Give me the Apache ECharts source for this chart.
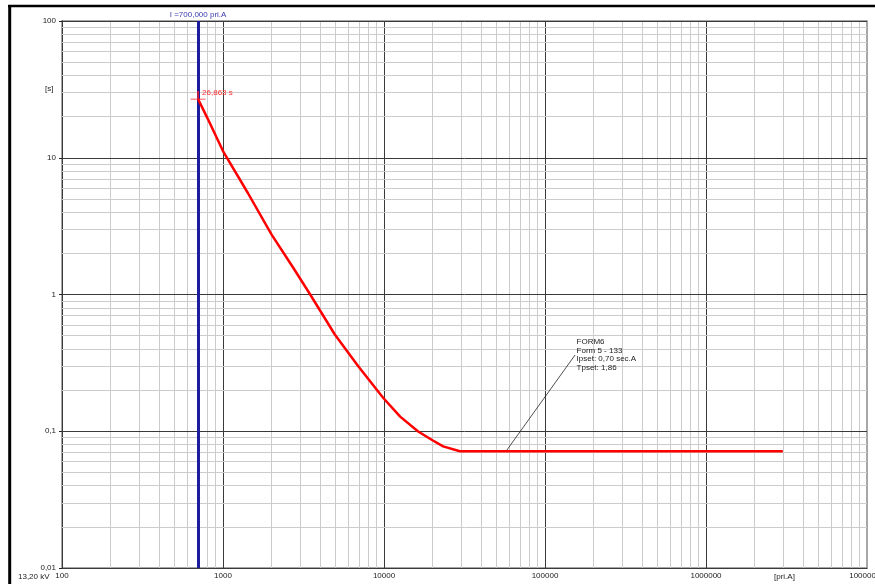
<!DOCTYPE html>
<html>
<head>
<meta charset="utf-8">
<script src="https://cdn.jsdelivr.net/npm/echarts@6/dist/echarts.min.js"></script>
<style>
  html, body { margin: 0; padding: 0; background: #fff; }
  #main { width: 875px; height: 584px; }
</style>
</head>
<body>
<div id="main"></div>
<script>
// relay curve: current [pri.A] vs trip time [s]
var currentA = [700, 800, 1000, 1430, 2000, 2730, 3480, 4950, 6900, 9900, 12600, 16300, 20000, 23300, 29600, 3000000];
var timeS = [26.863, 19.5, 11.2, 5.5, 2.75, 1.57, 1.0, 0.51, 0.30, 0.175, 0.128, 0.0995, 0.086, 0.0775, 0.0715, 0.0715];

var pickupA = 700;
var pickupT = 26.863;
var noteAnchor = [57300, 0.0715];
var noteEnd = [153700, 0.361];
var noteLines = ['FORM6', 'Form 5 - 133', 'Ipset: 0,70 sec.A', 'Tpset: 1,86'];

var xDecades = [100, 1000, 10000, 100000, 1000000, 10000000];
var yDecades = [0.01, 0.1, 1, 10, 100];
var minorSteps = [2, 3, 4, 5, 6, 7, 8, 9];

var myChart = echarts.init(document.getElementById('main'));

// grid lines, minor ones at 2..9 of each decade
var gridLines = [];
xDecades.forEach(function (d, i) {
    if (i < xDecades.length - 1) {
        gridLines.push({ xAxis: d, lineStyle: { color: '#3a3a3a', width: 1, type: 'solid' } });
        minorSteps.forEach(function (k) {
            gridLines.push({ xAxis: d * k, lineStyle: { color: '#cccccc', width: 1, type: 'solid' } });
        });
    }
});
yDecades.forEach(function (d, i) {
    gridLines.push({ yAxis: d, lineStyle: { color: '#3a3a3a', width: 1, type: 'solid' } });
    if (i < yDecades.length - 1) {
        minorSteps.forEach(function (k) {
            gridLines.push({ yAxis: +(d * k).toPrecision(6), lineStyle: { color: '#cccccc', width: 1, type: 'solid' } });
        });
    }
});

var curve = currentA.map(function (v, i) { return [v, timeS[i]]; });

var option = {
    animation: false,
    textStyle: { fontFamily: 'Liberation Sans, Arial, sans-serif' },
    grid: {
        left: 62, right: 8, top: 21, bottom: 16,
        containLabel: false, outerBoundsMode: 'none',
        show: true, borderColor: '#8a8a8a', borderWidth: 1.5, backgroundColor: '#fff'
    },
    xAxis: {
        type: 'log', logBase: 10, min: 100, max: 10000000,
        axisLine: { show: true, lineStyle: { color: '#222', width: 1 } },
        axisTick: { show: false },
        splitLine: { show: false },
        axisLabel: {
            fontSize: 8, color: '#222', margin: 4, hideOverlap: false,
            formatter: function (v) { return String(Math.round(v)); }
        }
    },
    yAxis: {
        type: 'log', logBase: 10, min: 0.01, max: 100,
        axisLine: { show: true, lineStyle: { color: '#222', width: 1 } },
        axisTick: { show: true, length: 3, lineStyle: { color: '#222' } },
        splitLine: { show: false },
        axisLabel: {
            fontSize: 8, color: '#222', margin: 6,
            formatter: function (v) { return String(+(+v).toPrecision(6)).replace('.', ','); }
        }
    },
    graphic: [
        { type: 'line', shape: { x1: 8, y1: 6, x2: 875, y2: 6 }, style: { stroke: '#000', lineWidth: 2.5 } },
        { type: 'line', shape: { x1: 9.7, y1: 5, x2: 9.7, y2: 584 }, style: { stroke: '#000', lineWidth: 3 } },
        { type: 'text', left: 45, top: 85, style: { text: '[s]', fill: '#222', font: '8px Liberation Sans' } },
        { type: 'text', left: 18, top: 573, style: { text: '13,20 kV', fill: '#222', font: '8px Liberation Sans' } },
        { type: 'text', left: 774, top: 573, style: { text: '[pri.A]', fill: '#222', font: '8px Liberation Sans' } }
    ],
    series: [{
        name: 'grid',
        type: 'line',
        data: [],
        silent: true,
        z: 1,
        markLine: {
            silent: true,
            z: 1,
            symbol: ['none', 'none'],
            lineStyle: { type: 'solid' },
            label: { show: false },
            data: gridLines
        }
    }, {
        name: 'pickup',
        type: 'line',
        data: [],
        silent: true,
        z: 6,
        markLine: {
            silent: true,
            z: 6,
            symbol: ['none', 'none'],
            lineStyle: { color: '#1c1c9c', width: 3, type: 'solid' },
            label: {
                show: true, position: 'end', distance: 2,
                color: '#3a3ab0', fontSize: 8,
                formatter: 'I =700,000 pri.A'
            },
            data: [{ xAxis: pickupA }]
        }
    }, {
        name: 'FORM6',
        type: 'line',
        data: curve,
        showSymbol: false,
        z: 10,
        lineStyle: { color: '#ff0000', width: 2.5 },
        markPoint: {
            silent: true,
            z: 11,
            data: [{
                coord: [pickupA, pickupT],
                symbol: 'path://M0,8 L15,8 M7.5,0 L7.5,8',
                symbolSize: [15, 8],
                symbolOffset: [0, -4],
                itemStyle: { color: 'none', borderColor: '#ff2020', borderWidth: 1 },
                label: {
                    show: true, position: 'inside', align: 'left', verticalAlign: 'middle',
                    offset: [4, -2], color: '#ff3030', fontSize: 8,
                    formatter: '26,863 s'
                }
            }, {
                coord: noteEnd,
                symbol: 'circle',
                symbolSize: 1,
                itemStyle: { color: 'rgba(0,0,0,0)' },
                label: {
                    show: true, position: 'right', distance: 1,
                    align: 'left', verticalAlign: 'middle',
                    color: '#222', fontSize: 8, lineHeight: 8.5,
                    formatter: noteLines.join('\n')
                }
            }]
        },
        markLine: {
            silent: true,
            z: 9,
            symbol: ['none', 'none'],
            lineStyle: { color: '#222', width: 0.8, type: 'solid' },
            label: { show: false },
            data: [[{ coord: noteAnchor }, { coord: noteEnd }]]
        }
    }]
};

myChart.setOption(option);
</script>
</body>
</html>
